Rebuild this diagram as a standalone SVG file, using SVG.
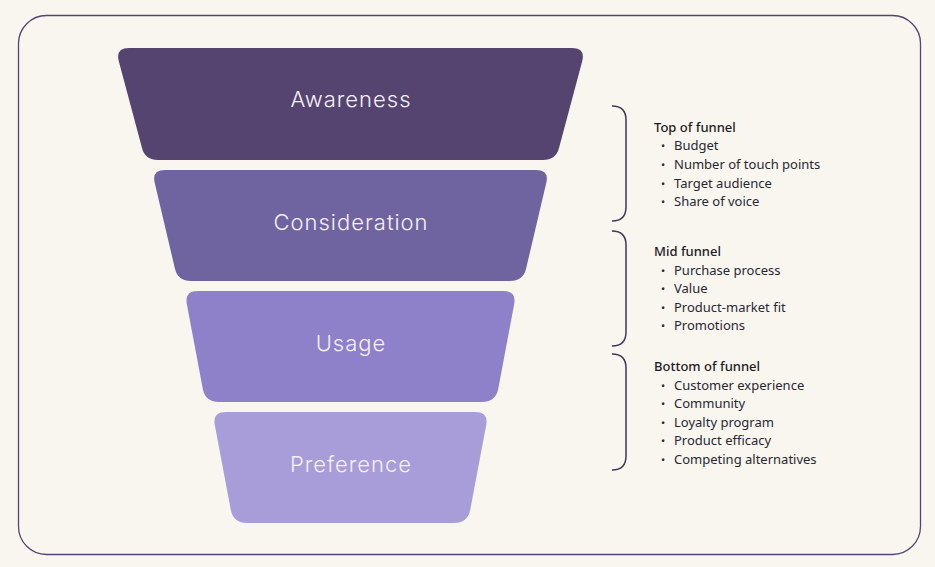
<svg xmlns="http://www.w3.org/2000/svg" width="935" height="567" viewBox="0 0 935 567">
<style>
.lbl{font-family:Inter,"Noto Sans",sans-serif;font-size:22px;font-weight:300;letter-spacing:1px;fill:#F4F0FC;text-anchor:middle;dominant-baseline:central}
.h{font-family:"Noto Sans",Inter,sans-serif;font-size:13px;font-weight:500;fill:#1E1B26}
.i{font-family:"Noto Sans",Inter,sans-serif;font-size:13px;fill:#2A2733}
.b{font-family:"Noto Sans",Inter,sans-serif;font-size:11px;fill:#2A2733}
.br{fill:none;stroke:#3E3858;stroke-width:1.5}
</style>
<rect width="935" height="567" fill="#F9F6F0"/>
<rect x="18.5" y="15.5" width="902" height="539" rx="28" fill="#F9F6F0" stroke="#54446F" stroke-width="1.3"/>
<g id="awareness">
<path d="M129,48 H572 Q586,48 582,62 L559,148 Q556,160 543,160 H158 Q145,160 142,148 L119,62 Q115,48 129,48 Z" fill="#54446F"/>
<text class="lbl" x="351" y="99">Awareness</text>
</g>
<g id="consideration">
<path d="M165,170 H536 Q550,170 546,184 L526,269 Q523,281 510,281 H191 Q178,281 175,269 L155,184 Q151,170 165,170 Z" fill="#6F64A0"/>
<text class="lbl" x="351" y="222">Consideration</text>
</g>
<g id="usage">
<path d="M198,291 H503 Q517,291 514,305 L498,390 Q495,402 482,402 H219 Q206,402 203,390 L187,305 Q184,291 198,291 Z" fill="#8E80C9"/>
<text class="lbl" x="351" y="343">Usage</text>
</g>
<g id="preference">
<path d="M226,412 H475 Q489,412 486,426 L470,511 Q467,523 454,523 H247 Q234,523 231,511 L215,426 Q212,412 226,412 Z" fill="#A89CD9"/>
<text class="lbl" x="351" y="464">Preference</text>
</g>
<g id="connectors">
<path class="br" d="M612,106 Q626,106 626,120 V207 Q626,221 612,221"/>
<path class="br" d="M612,231 Q626,231 626,245 V332 Q626,346 612,346"/>
<path class="br" d="M612,354 Q626,354 626,368 V456 Q626,470 612,470"/>
</g>
<g id="top-funnel">
<text class="h" x="654" y="132">Top of funnel</text>
<text class="b" x="661" y="150">•</text><text class="i" x="674" y="150">Budget</text>
<text class="b" x="661" y="169">•</text><text class="i" x="674" y="169">Number of touch points</text>
<text class="b" x="661" y="188">•</text><text class="i" x="674" y="188">Target audience</text>
<text class="b" x="661" y="206">•</text><text class="i" x="674" y="206">Share of voice</text>
</g>
<g id="mid-funnel">
<text class="h" x="654" y="256">Mid funnel</text>
<text class="b" x="661" y="275">•</text><text class="i" x="674" y="275">Purchase process</text>
<text class="b" x="661" y="293">•</text><text class="i" x="674" y="293">Value</text>
<text class="b" x="661" y="312">•</text><text class="i" x="674" y="312">Product-market fit</text>
<text class="b" x="661" y="330">•</text><text class="i" x="674" y="330">Promotions</text>
</g>
<g id="bottom-funnel">
<text class="h" x="654" y="371">Bottom of funnel</text>
<text class="b" x="661" y="390">•</text><text class="i" x="674" y="390">Customer experience</text>
<text class="b" x="661" y="408">•</text><text class="i" x="674" y="408">Community</text>
<text class="b" x="661" y="427">•</text><text class="i" x="674" y="427">Loyalty program</text>
<text class="b" x="661" y="445">•</text><text class="i" x="674" y="445">Product efficacy</text>
<text class="b" x="661" y="464">•</text><text class="i" x="674" y="464">Competing alternatives</text>
</g>
</svg>
